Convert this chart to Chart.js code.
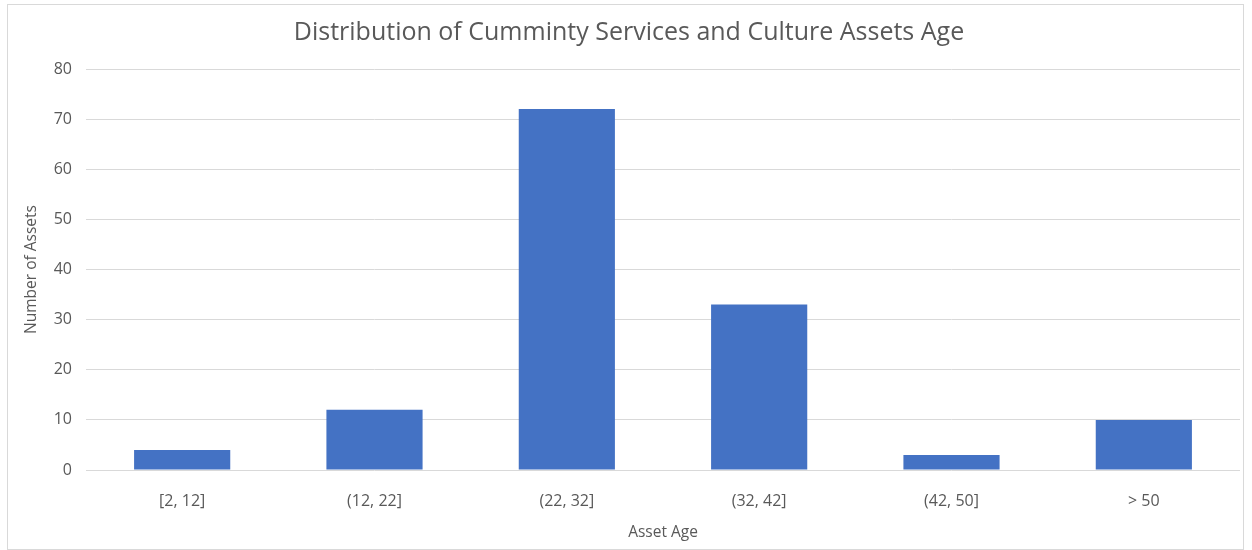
<!DOCTYPE html>
<html>
<head>
<meta charset="utf-8">
<script src="https://cdn.jsdelivr.net/npm/chart.js@4"></script>
<style>
  html, body { margin: 0; padding: 0; background: #fff; }
  #wrap { position: relative; width: 1252px; height: 550px; }
  #frame { position: absolute; left: 7px; top: 4px; width: 1235px; height: 544px; border: 1px solid #d9d9d9; }
  #c { position: absolute; left: 0; top: 0; }
</style>
</head>
<body>
<div id="wrap">
  <div id="frame"></div>
  <canvas id="c" width="1252" height="550"></canvas>
</div>
<script>
const categories = ['[2, 12]', '(12, 22]', '(22, 32]', '(32, 42]', '(42, 50]', '> 50'];
const assetCounts = [4, 12, 72, 33, 3, 10];
const chartTitle = 'Distribution of Cumminty Services and Culture Assets Age';
const xTitle = 'Asset Age';
const yTitle = 'Number of Assets';

const FONT = "'Open Sans', sans-serif";
const GREY = '#595959';

function initChart() {
  const ctx = document.getElementById('c').getContext('2d');
  new Chart(ctx, {
    type: 'bar',
    data: {
      labels: categories,
      datasets: [{
        data: assetCounts,
        backgroundColor: '#4472C4',
        borderWidth: 0,
        barPercentage: 0.5,
        categoryPercentage: 1
      }]
    },
    options: {
      responsive: false,
      animation: false,
      layout: { padding: { top: 6, left: 18, right: 12, bottom: 6 } },
      plugins: {
        legend: { display: false },
        tooltip: { enabled: false },
        title: {
          display: true,
          text: chartTitle,
          color: GREY,
          font: { family: FONT, size: 25, weight: 'normal' },
          padding: { top: 12, bottom: 21 }
        }
      },
      scales: {
        x: {
          grid: { display: false },
          border: { display: false },
          ticks: { color: GREY, font: { family: FONT, size: 16 }, padding: 14 },
          title: { display: true, text: xTitle, color: GREY, font: { family: FONT, size: 15.5 }, padding: { top: 2, bottom: 2 } },
          afterFit: s => { s.height = 74; }
        },
        y: {
          min: 0,
          max: 80,
          ticks: { stepSize: 10, color: GREY, font: { family: FONT, size: 16 }, padding: 14 },
          grid: { color: '#d9d9d9', lineWidth: 1, drawTicks: false },
          border: { display: false },
          title: { display: true, text: yTitle, color: GREY, font: { family: FONT, size: 15.5 }, padding: { top: 4, bottom: 4 } },
          afterFit: s => { s.width = 68; }
        }
      }
    }
  });
}

initChart();
</script>
</body>
</html>
